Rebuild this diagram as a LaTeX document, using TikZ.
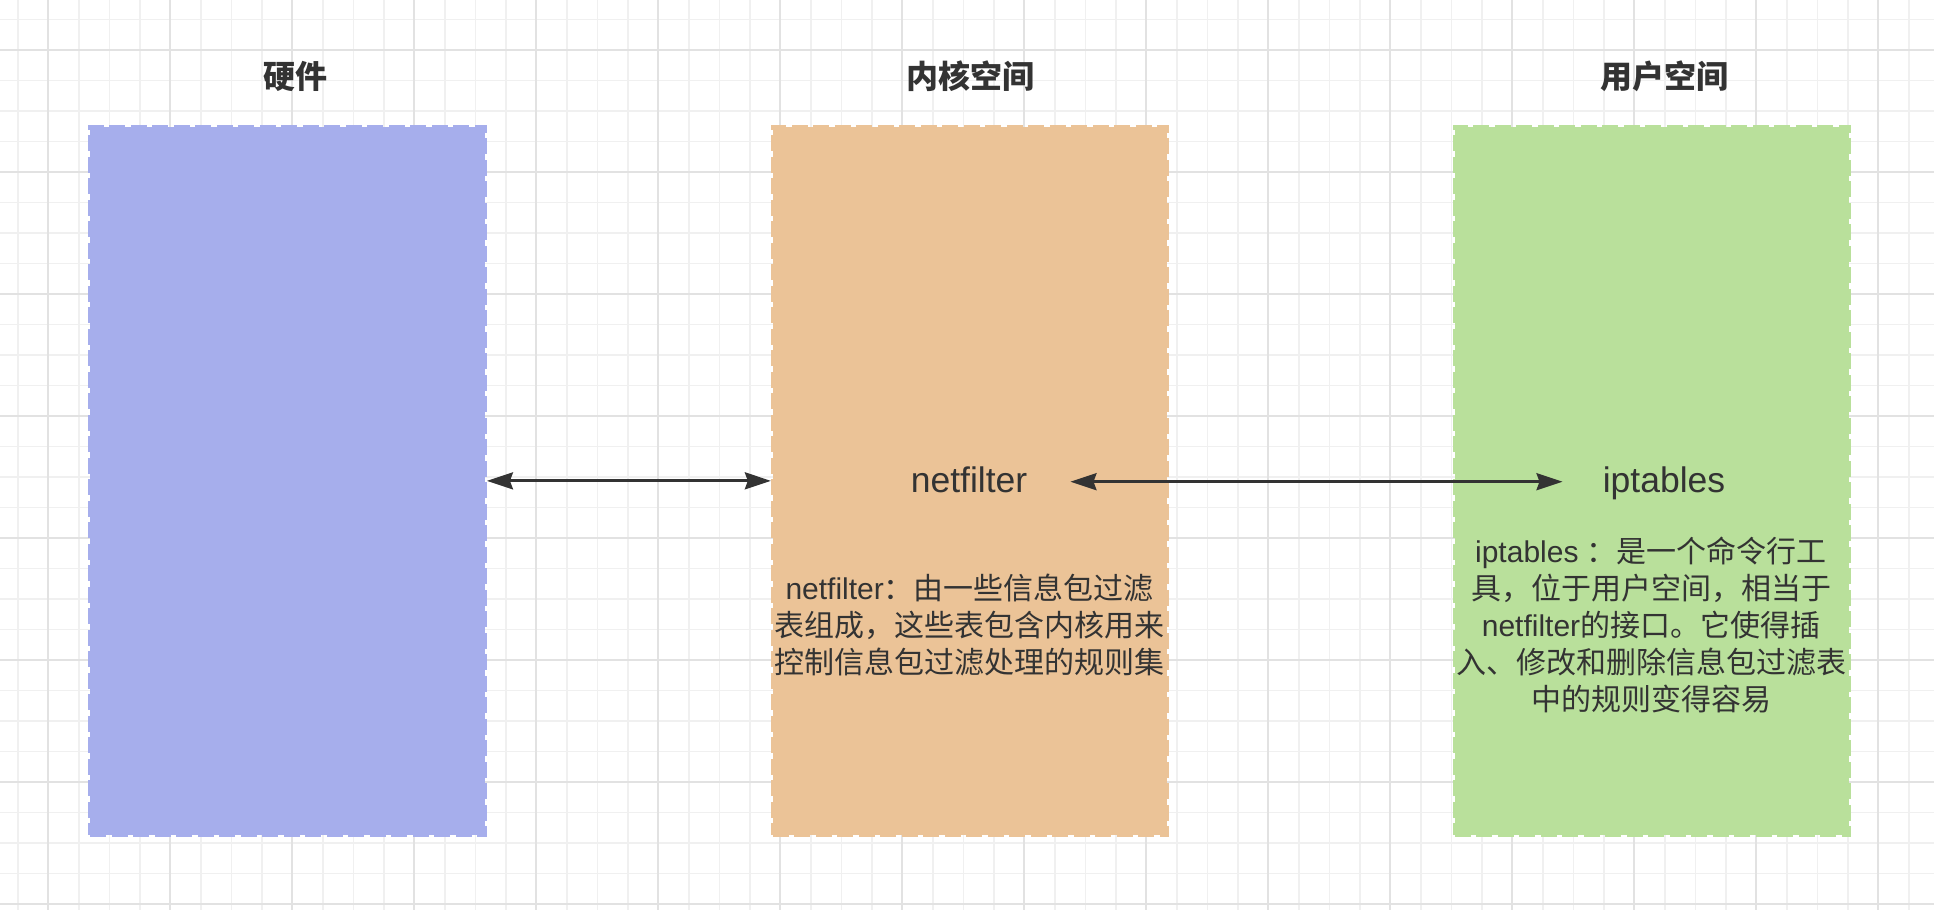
\documentclass[tikz,border=0pt]{standalone}
\usepackage{fontspec}
\setmainfont{Liberation Sans}
\newfontfamily\lat{Liberation Sans}
\newfontfamily\cjk{Noto Sans CJK SC}
\usetikzlibrary{arrows.meta}
\definecolor{txt}{HTML}{333333}
\definecolor{hwblue}{HTML}{A6AEEC}
\definecolor{korange}{HTML}{EBC397}
\definecolor{ugreen}{HTML}{B9E09B}
\definecolor{gridminor}{HTML}{F0F0F0}
\definecolor{gridmajor}{HTML}{E2E2E2}
\begin{document}
\begin{tikzpicture}[x=1pt,y=-1pt,
  region/.style={draw=#1, fill=#1, line width=4pt, dash pattern=on 16pt off 5.5pt,
    minimum width=394.5pt, minimum height=707.7pt, inner sep=0pt, outer sep=2pt},
  title/.style={font=\cjk\bfseries\fontsize{32}{38}\selectfont, text=txt, inner sep=0pt},
  lbl/.style={font=\lat\fontsize{35.5}{40}\selectfont, text=txt, minimum width=203pt,
    text height=22pt, text depth=0pt, inner sep=0pt, outer sep=0pt},
  desc/.style={font=\cjk\fontsize{30}{37}\selectfont, text=txt, align=center, inner sep=0pt},
  tip/.tip={Stealth[length=26pt,width=17pt,inset=3pt]},
  conn/.style={draw=txt, line width=2.8pt, tip-tip},
  minorline/.style={draw=gridminor, line width=1.5pt},
  majorline/.style={draw=gridmajor, line width=2pt}
]
\useasboundingbox (0,0) rectangle (1934,910);
\fill[white] (0,0) rectangle (1934,910);
% grid
\foreach \i in {0,...,62} \draw[minorline] ({17.8+30.5*\i},0) -- ({17.8+30.5*\i},910);
\foreach \j in {0,...,29} \draw[minorline] (0,{19.5+30.5*\j}) -- (1934,{19.5+30.5*\j});
\foreach \i in {0,...,15} \draw[majorline] ({48.3+122*\i},0) -- ({48.3+122*\i},910);
\foreach \j in {0,...,7} \draw[majorline] (0,{50+122*\j}) -- (1934,{50+122*\j});
% regions
\node[region=hwblue] (hw) at (287.7,480.85) {};
\node[region=korange] (kern) at (970.1,480.85) {};
\node[region=ugreen] (user) at (1651.8,480.85) {};
% titles
\node[title] (thw) at (295.5,76) {硬件};
\node[title] (tkern) at (970,76) {内核空间};
\node[title] (tuser) at (1664,76) {用户空间};
% labels
\node[lbl] (nf) at (969,481.7) {netfilter};
\node[lbl] (ipt) at (1664,481.7) {iptables};
% descriptions
\node[desc] (nfdesc) at (969.7,625) {{\lat netfilter}：由一些信息包过滤\\表组成，这些表包含内核用来\\控制信息包过滤处理的规则集};
\node[desc] (iptdesc) at (1651,625) {{\lat iptables\ }：是一个命令行工\\具，位于用户空间，相当于\\{\lat netfilter}的接口。它使得插\\入、修改和删除信息包过滤表\\中的规则变得容易};
% connectors
\draw[conn] (hw.east) -- (kern.west);
\draw[conn] (nf.east) -- (ipt.west);
\end{tikzpicture}
\end{document}
